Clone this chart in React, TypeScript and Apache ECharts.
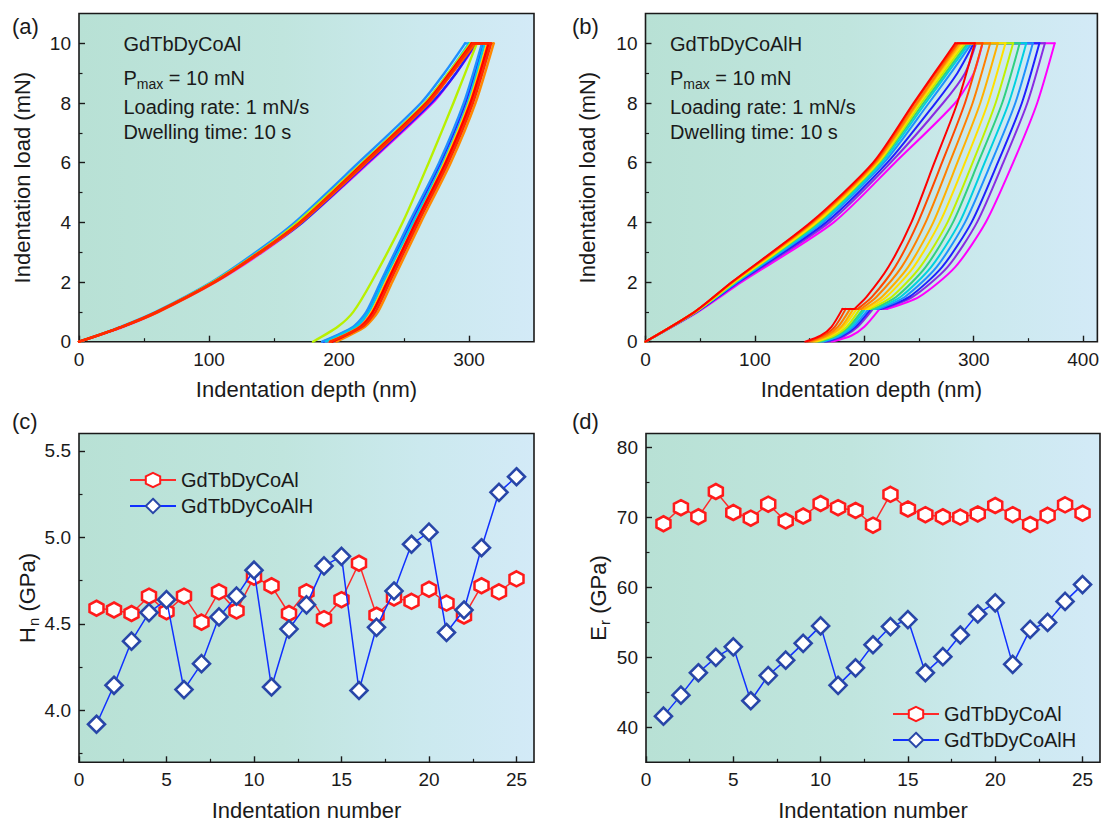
import React, { useEffect, useRef } from 'react';
import * as echarts from 'echarts';

const FONT = "'Liberation Sans', Arial, Helvetica, sans-serif";
const INK = '#1a1a1a';

// ---------- Panel (a) / (b) axes ----------
const A_X_MAJOR = [0, 100, 200, 300];
const A_X_MINOR = [50, 150, 250];
const B_X_MAJOR = [0, 100, 200, 300, 400];
const B_X_MINOR = [50, 150, 250, 350];
const LOAD_MAJOR = [0, 2, 4, 6, 8, 10];
const LOAD_MINOR = [1, 3, 5, 7, 9];

// ---------- Panel (c) / (d) axes ----------
const N_MAJOR = [0, 5, 10, 15, 20, 25];
const N_MINOR = [2.5, 7.5, 12.5, 17.5, 22.5];
const H_MAJOR = [4.0, 4.5, 5.0, 5.5];
const H_MINOR = [3.75, 4.25, 4.75, 5.25];
const E_MAJOR = [40, 50, 60, 70, 80];
const E_MINOR = [45, 55, 65, 75];

// ---------- Panel (a): GdTbDyCoAl load-depth curves ----------
const A_LOAD_UP = [0, 0.5, 1, 2, 3, 4, 6, 8, 9, 10];
const A_LOAD_DOWN = [10, 8, 6, 4, 2, 1, 0.5, 0];
const A_COLORS = ['#ff00ff', '#2020ff', '#1e90ff', '#00c8e8', '#b8f000', '#ffd000', '#ff8800', '#ff5000', '#ff0000', '#ff2a00'];
const A_UP = [
  [0, 34, 61, 105, 141, 172, 223, 272, 290, 306],
  [0, 33, 60, 104, 140, 172, 222, 271, 290, 305],
  [0, 32, 59, 102, 136, 166, 215, 263, 281, 297],
  [0, 33, 60, 103, 138, 169, 218, 266, 284, 300],
  [0, 33, 60, 103, 138, 168, 218, 266, 284, 301],
  [0, 33, 60, 104, 139, 170, 219, 267, 285, 302],
  [0, 33, 61, 104, 140, 171, 220, 268, 287, 304],
  [0, 33, 61, 105, 140, 171, 221, 269, 287, 305],
  [0, 33, 60, 104, 139, 170, 219, 267, 285, 302],
  [0, 33, 60, 104, 139, 170, 220, 268, 286, 303],
];
const A_DOWN = [
  [312, 298, 279, 256, 234, 223, 214, 190],
  [311, 297, 278, 255, 233, 222, 212, 188],
  [310, 296, 277, 254, 232, 221, 211, 187],
  [312, 299, 280, 257, 234, 223, 213, 190],
  [306, 288, 269, 249, 225, 211, 199, 180],
  [314, 300, 281, 259, 236, 225, 216, 193],
  [319, 305, 286, 263, 241, 230, 220, 198],
  [316, 302, 283, 260, 238, 226, 216, 194],
  [315, 301, 282, 259, 237, 226, 217, 195],
  [317, 303, 284, 261, 239, 228, 218, 193],
];

// ---------- Panel (b): GdTbDyCoAlH load-depth curves ----------
const B_LOAD_UP = [0, 1, 2, 4, 6, 8, 9, 10];
const B_LOAD_DOWN = [10, 8, 6, 4, 2.5, 1.5, 1.1];
const B_LOAD_TAIL = [1.1, 0.5, 0.2, 0];
const B_HOLD_LOAD = 1.1;
const B_COLORS = ['#ff00ff', '#8a2be2', '#2020ff', '#1e90ff', '#00d0e0', '#30d080', '#c0f000', '#ffe000', '#ffb000', '#ff8000', '#ff4800', '#ff0000'];
const B_UP = [
  [0, 48, 88, 172, 228, 283, 300, 308],
  [0, 47, 86, 168, 224, 272, 292, 302],
  [0, 47, 85, 165, 221, 265, 285, 300],
  [0, 46, 84, 162, 218, 259, 279, 298],
  [0, 46, 83, 160, 216, 256, 276, 296],
  [0, 46, 82, 158, 214, 254, 274, 294],
  [0, 46, 82, 157, 213, 252, 272, 292],
  [0, 45, 81, 156, 212, 250, 270, 290],
  [0, 45, 80, 154, 211, 249, 268, 288],
  [0, 45, 80, 153, 210, 248, 267, 286],
  [0, 45, 79, 152, 209, 246, 265, 285],
  [0, 45, 79, 151, 208, 245, 264, 283],
];
const B_DOWN = [
  [374, 358, 336, 311, 283, 250, 221],
  [365, 349, 327, 303, 276, 244, 217],
  [360, 344, 322, 298, 271, 241, 215],
  [354, 338, 316, 292, 266, 237, 213],
  [348, 332, 310, 287, 261, 233, 210],
  [342, 326, 304, 281, 256, 229, 208],
  [336, 320, 299, 276, 251, 225, 205],
  [329, 313, 292, 269, 245, 220, 203],
  [322, 306, 285, 263, 240, 216, 200],
  [315, 299, 278, 256, 234, 211, 197],
  [308, 292, 271, 249, 228, 207, 194],
  [301, 285, 264, 243, 222, 202, 191],
];
const B_TAIL = [
  [214, 200, 188, 170],
  [208, 194, 182, 166],
  [206, 192, 180, 164],
  [204, 190, 178, 162],
  [201, 188, 176, 160],
  [199, 186, 174, 158],
  [196, 184, 172, 156],
  [193, 181, 169, 154],
  [190, 179, 167, 152],
  [187, 176, 165, 150],
  [183, 173, 162, 148],
  [180, 170, 160, 146],
];

// ---------- Panels (c) / (d) ----------
const INDEX = [1, 2, 3, 4, 5, 6, 7, 8, 9, 10, 11, 12, 13, 14, 15, 16, 17, 18, 19, 20, 21, 22, 23, 24, 25];
const HN_AL = [4.59, 4.58, 4.56, 4.66, 4.57, 4.66, 4.51, 4.685, 4.575, 4.77, 4.72, 4.56, 4.685, 4.53, 4.64, 4.85, 4.55, 4.65, 4.63, 4.70, 4.62, 4.545, 4.72, 4.685, 4.76];
const HN_ALH = [3.92, 4.145, 4.40, 4.565, 4.64, 4.12, 4.27, 4.54, 4.66, 4.81, 4.135, 4.47, 4.61, 4.835, 4.89, 4.115, 4.48, 4.69, 4.96, 5.03, 4.45, 4.58, 4.94, 5.26, 5.35];
const ER_AL = [69.1, 71.4, 70.1, 73.7, 70.7, 69.9, 71.9, 69.5, 70.2, 72.0, 71.4, 71.0, 68.9, 73.3, 71.2, 70.4, 70.1, 70.05, 70.5, 71.7, 70.4, 69.0, 70.3, 71.8, 70.6];
const ER_ALH = [41.6, 44.6, 47.8, 50.0, 51.5, 43.8, 47.4, 49.6, 52.0, 54.5, 46.0, 48.5, 51.8, 54.4, 55.4, 47.8, 50.1, 53.2, 56.2, 57.8, 49.0, 54.0, 55.0, 58.0, 60.4];

const NAME_AL = 'GdTbDyCoAl';
const NAME_ALH = 'GdTbDyCoAlH';
const HEX = 'path://M0,-10L8.66,-5L8.66,5L0,10L-8.66,5L-8.66,-5Z';

function bg() {
  return {
    type: 'linear', x: 0, y: 0, x2: 1, y2: 0,
    colorStops: [
      { offset: 0, color: '#b8e1d5' },
      { offset: 0.45, color: '#c0e5de' },
      { offset: 0.75, color: '#cbe9ee' },
      { offset: 1, color: '#d3eaf7' },
    ],
  };
}

function grid(left: number, top: number, width: number, height: number) {
  return { left, top, width, height, show: true, borderColor: INK, borderWidth: 1.6, backgroundColor: bg(), containLabel: false };
}

const SUB_RICH = {
  m: { fontSize: 22, fontFamily: FONT, color: INK },
  s: { fontSize: 15, fontFamily: FONT, color: INK, padding: [12, 0, 0, 1] },
};

function axes(dim: 'x' | 'y', gridIndex: number, min: number, max: number, major: number[], minor: number[], name: string, nameGap: number, fmt?: (v: number) => string) {
  const position = dim === 'x' ? 'bottom' : 'left';
  const label: any = { show: true, customValues: major, fontSize: 19, color: INK, margin: 8, fontFamily: FONT };
  if (fmt) label.formatter = fmt;
  const main = {
    type: 'value', gridIndex, min, max, position,
    axisLine: { show: false }, splitLine: { show: false },
    axisTick: { show: true, inside: true, length: 6, lineStyle: { color: INK, width: 1.4 }, customValues: major },
    axisLabel: label,
    name, nameLocation: 'middle', nameGap,
    nameTextStyle: { fontSize: 22, color: INK, fontFamily: FONT, rich: SUB_RICH },
  };
  const sub = {
    type: 'value', gridIndex, min, max, position,
    axisLine: { show: false }, splitLine: { show: false },
    axisLabel: { show: false },
    axisTick: { show: true, inside: true, length: 3.5, lineStyle: { color: INK, width: 1.2 }, customValues: minor },
  };
  return [main, sub];
}

function seg(prefix: string, k: number, xi: number, color: string, width: number, data: number[][]) {
  return {
    type: 'line', name: `${prefix}-${k}`, xAxisIndex: xi, yAxisIndex: xi, data,
    symbol: 'none', smooth: data.length > 2 ? 0.25 : false,
    lineStyle: { color, width, join: 'round', cap: 'round' }, silent: true, z: 2,
  };
}

function curvesA() {
  const out: any[] = [];
  A_UP.forEach((up, i) => {
    const down = A_DOWN[i];
    const c = A_COLORS[i];
    const p = `a${i}`;
    out.push(seg(p, 0, 0, c, 2.4, up.map((d, k) => [d, A_LOAD_UP[k]])));
    out.push(seg(p, 1, 0, c, 2.4, [[up[up.length - 1], 10], [down[0], 10]]));
    out.push(seg(p, 2, 0, c, 2.4, down.map((d, k) => [d, A_LOAD_DOWN[k]])));
  });
  return out;
}

function curvesB() {
  const out: any[] = [];
  B_UP.forEach((up, i) => {
    const down = B_DOWN[i];
    const tail = B_TAIL[i];
    const c = B_COLORS[i];
    const p = `b${i}`;
    out.push(seg(p, 0, 2, c, 2, up.map((d, k) => [d, B_LOAD_UP[k]])));
    out.push(seg(p, 1, 2, c, 2, [[up[up.length - 1], 10], [down[0], 10]]));
    out.push(seg(p, 2, 2, c, 2, down.map((d, k) => [d, B_LOAD_DOWN[k]])));
    out.push(seg(p, 3, 2, c, 2, [[down[down.length - 1], B_HOLD_LOAD], [tail[0], B_HOLD_LOAD]]));
    out.push(seg(p, 4, 2, c, 2, tail.map((d, k) => [d, B_LOAD_TAIL[k]])));
  });
  return out;
}

function pointSeries(name: string, idx: number, values: number[], isH: boolean) {
  return {
    type: 'line', name, xAxisIndex: idx, yAxisIndex: idx,
    data: INDEX.map((n, i) => [n, values[i]]),
    symbol: isH ? 'diamond' : HEX,
    symbolSize: isH ? 17 : [14, 15],
    showAllSymbol: true,
    lineStyle: { color: isH ? '#1030ff' : '#ff2a2a', width: 1.5 },
    itemStyle: { color: '#ffffff', borderColor: isH ? '#2846a8' : '#ff1a1a', borderWidth: 2.6 },
    z: isH ? 4 : 3,
  };
}

function legend(left: number, top: number) {
  return {
    left, top, orient: 'vertical', itemWidth: 46, itemHeight: 18, itemGap: 6,
    selectedMode: false, data: [NAME_AL, NAME_ALH],
    textStyle: { fontSize: 20, color: INK, fontFamily: FONT },
  };
}

function txt(x: number, y: number, text: string, size = 20) {
  return {
    type: 'text', x, y, silent: true,
    style: {
      text, fontSize: size, fontFamily: FONT, fill: INK, verticalAlign: 'middle', align: 'left',
      rich: { s: { fontSize: 14, fontFamily: FONT, fill: INK, padding: [12, 0, 0, 0] } },
    },
  };
}

function buildOption() {
  const [ax0, ax1] = axes('x', 0, 0, 350, A_X_MAJOR, A_X_MINOR, 'Indentation depth (nm)', 37);
  const [bx0, bx1] = axes('x', 1, 0, 413, B_X_MAJOR, B_X_MINOR, 'Indentation depth (nm)', 37);
  const [cx0, cx1] = axes('x', 2, 0, 26, N_MAJOR, N_MINOR, 'Indentation number', 37);
  const [dx0, dx1] = axes('x', 3, 0, 26, N_MAJOR, N_MINOR, 'Indentation number', 37);
  const [ay0, ay1] = axes('y', 0, 0, 11, LOAD_MAJOR, LOAD_MINOR, 'Indentation load (mN)', 46);
  const [by0, by1] = axes('y', 1, 0, 11, LOAD_MAJOR, LOAD_MINOR, 'Indentation load (mN)', 47);
  const [cy0, cy1] = axes('y', 2, 3.7, 5.6, H_MAJOR, H_MINOR, '{m|H}{s|n}{m| (GPa)}', 38, (v: number) => v.toFixed(1));
  const [dy0, dy1] = axes('y', 3, 35, 82, E_MAJOR, E_MINOR, '{m|E}{s|r}{m| (GPa)}', 34);

  return {
    animation: false,
    backgroundColor: '#ffffff',
    textStyle: { fontFamily: FONT },
    grid: [
      grid(79, 13.5, 455, 328.2),
      grid(645.5, 13.5, 454.5, 328.2),
      grid(79, 433.5, 455, 328.8),
      grid(646, 433.5, 454, 328.8),
    ],
    xAxis: [ax0, ax1, bx0, bx1, cx0, cx1, dx0, dx1],
    yAxis: [ay0, ay1, by0, by1, cy0, cy1, dy0, dy1],
    legend: [legend(124, 465), legend(887, 699)],
    graphic: [
      txt(12, 26, '(a)', 22),
      txt(572, 26, '(b)', 22),
      txt(12, 421, '(c)', 22),
      txt(572, 421, '(d)', 22),
      txt(123.5, 43.5, 'GdTbDyCoAl'),
      txt(123.5, 77.5, 'P{s|max} = 10 mN'),
      txt(123.5, 106.7, 'Loading rate: 1 mN/s'),
      txt(123.5, 131.7, 'Dwelling time: 10 s'),
      txt(670, 43.5, 'GdTbDyCoAlH'),
      txt(670, 77.5, 'P{s|max} = 10 mN'),
      txt(670, 106.7, 'Loading rate: 1 mN/s'),
      txt(670, 131.7, 'Dwelling time: 10 s'),
    ],
    series: [
      ...curvesA(),
      ...curvesB(),
      pointSeries(NAME_AL, 4, HN_AL, false),
      pointSeries(NAME_ALH, 4, HN_ALH, true),
      pointSeries(NAME_AL, 6, ER_AL, false),
      pointSeries(NAME_ALH, 6, ER_ALH, true),
    ],
  };
}

export default function App() {
  const ref = useRef<HTMLDivElement>(null);
  useEffect(() => {
    document.body.style.margin = '0';
    const chart = echarts.init(ref.current as HTMLDivElement, null, { renderer: 'svg' });
    chart.setOption(buildOption() as any);
    return () => chart.dispose();
  }, []);
  return <div ref={ref} style={{ width: 1102, height: 823 }} />;
}
